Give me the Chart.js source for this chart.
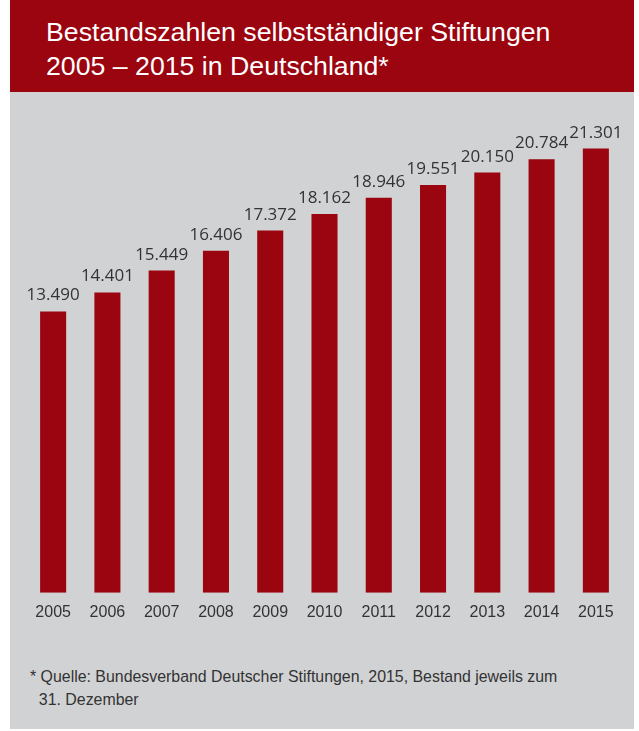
<!DOCTYPE html>
<html><head><meta charset="utf-8">
<script src="https://cdn.jsdelivr.net/npm/chart.js@4"></script>
<style>
html,body{margin:0;padding:0;background:#fff;width:639px;height:731px;overflow:hidden;}
#panel{position:absolute;left:10px;top:0;width:624px;height:729px;background:#D1D2D4;}
#header{position:absolute;left:10px;top:0;width:624px;height:92px;background:#9A050F;}
#title{position:absolute;left:46px;top:15px;color:#fff;font-family:"Liberation Sans",sans-serif;font-size:26.7px;line-height:34px;white-space:nowrap;}
#foot{position:absolute;left:30px;top:665px;color:#333;font-family:"Liberation Sans",sans-serif;font-size:15.9px;line-height:23px;white-space:nowrap;}
#c{position:absolute;left:0;top:0;}
</style></head>
<body>
<div id="panel"></div>
<div id="header"></div>
<div id="title">Bestandszahlen selbstständiger Stiftungen<br>2005 – 2015 in Deutschland*</div>
<div id="foot">* Quelle: Bundesverband Deutscher Stiftungen, 2015, Bestand jeweils zum<br>&nbsp;&nbsp;31. Dezember</div>
<canvas id="c" width="639" height="731"></canvas>
<script>
const years = ["2005","2006","2007","2008","2009","2010","2011","2012","2013","2014","2015"];
const counts = [13490,14401,15449,16406,17372,18162,18946,19551,20150,20784,21301];
const valueLabels = ["13.490","14.401","15.449","16.406","17.372","18.162","18.946","19.551","20.150","20.784","21.301"];

const labelPlugin = {
  id:'valueLabels',
  afterDatasetsDraw(chart){
    const ctx = chart.ctx;
    const meta = chart.getDatasetMeta(0);
    ctx.save();
    ctx.fillStyle = '#333333';
    ctx.font = '17px "Open Sans", "Liberation Sans", sans-serif';
    ctx.textAlign = 'center';
    ctx.textBaseline = 'alphabetic';
    meta.data.forEach((bar,i)=>{
      ctx.fillText(valueLabels[i], bar.x, bar.y - 11);
    });
    ctx.restore();
  }
};

new Chart(document.getElementById('c'), {
  type:'bar',
  data:{labels:years, datasets:[{data:counts, backgroundColor:'#9A050F', barPercentage:0.96, categoryPercentage:0.5}]},
  options:{
    responsive:false, animation:false,
    layout:{padding:{left:26,right:16,top:134,bottom:99}},
    plugins:{legend:{display:false}, tooltip:{enabled:false}},
    scales:{
      x:{grid:{display:false,drawTicks:false}, border:{display:false},
         ticks:{padding:10, color:'#333333', font:{family:'"Liberation Sans",sans-serif', size:16}}},
      y:{display:false, min:0, max:22000}
    }
  },
  plugins:[labelPlugin]
});
</script>
</body></html>
